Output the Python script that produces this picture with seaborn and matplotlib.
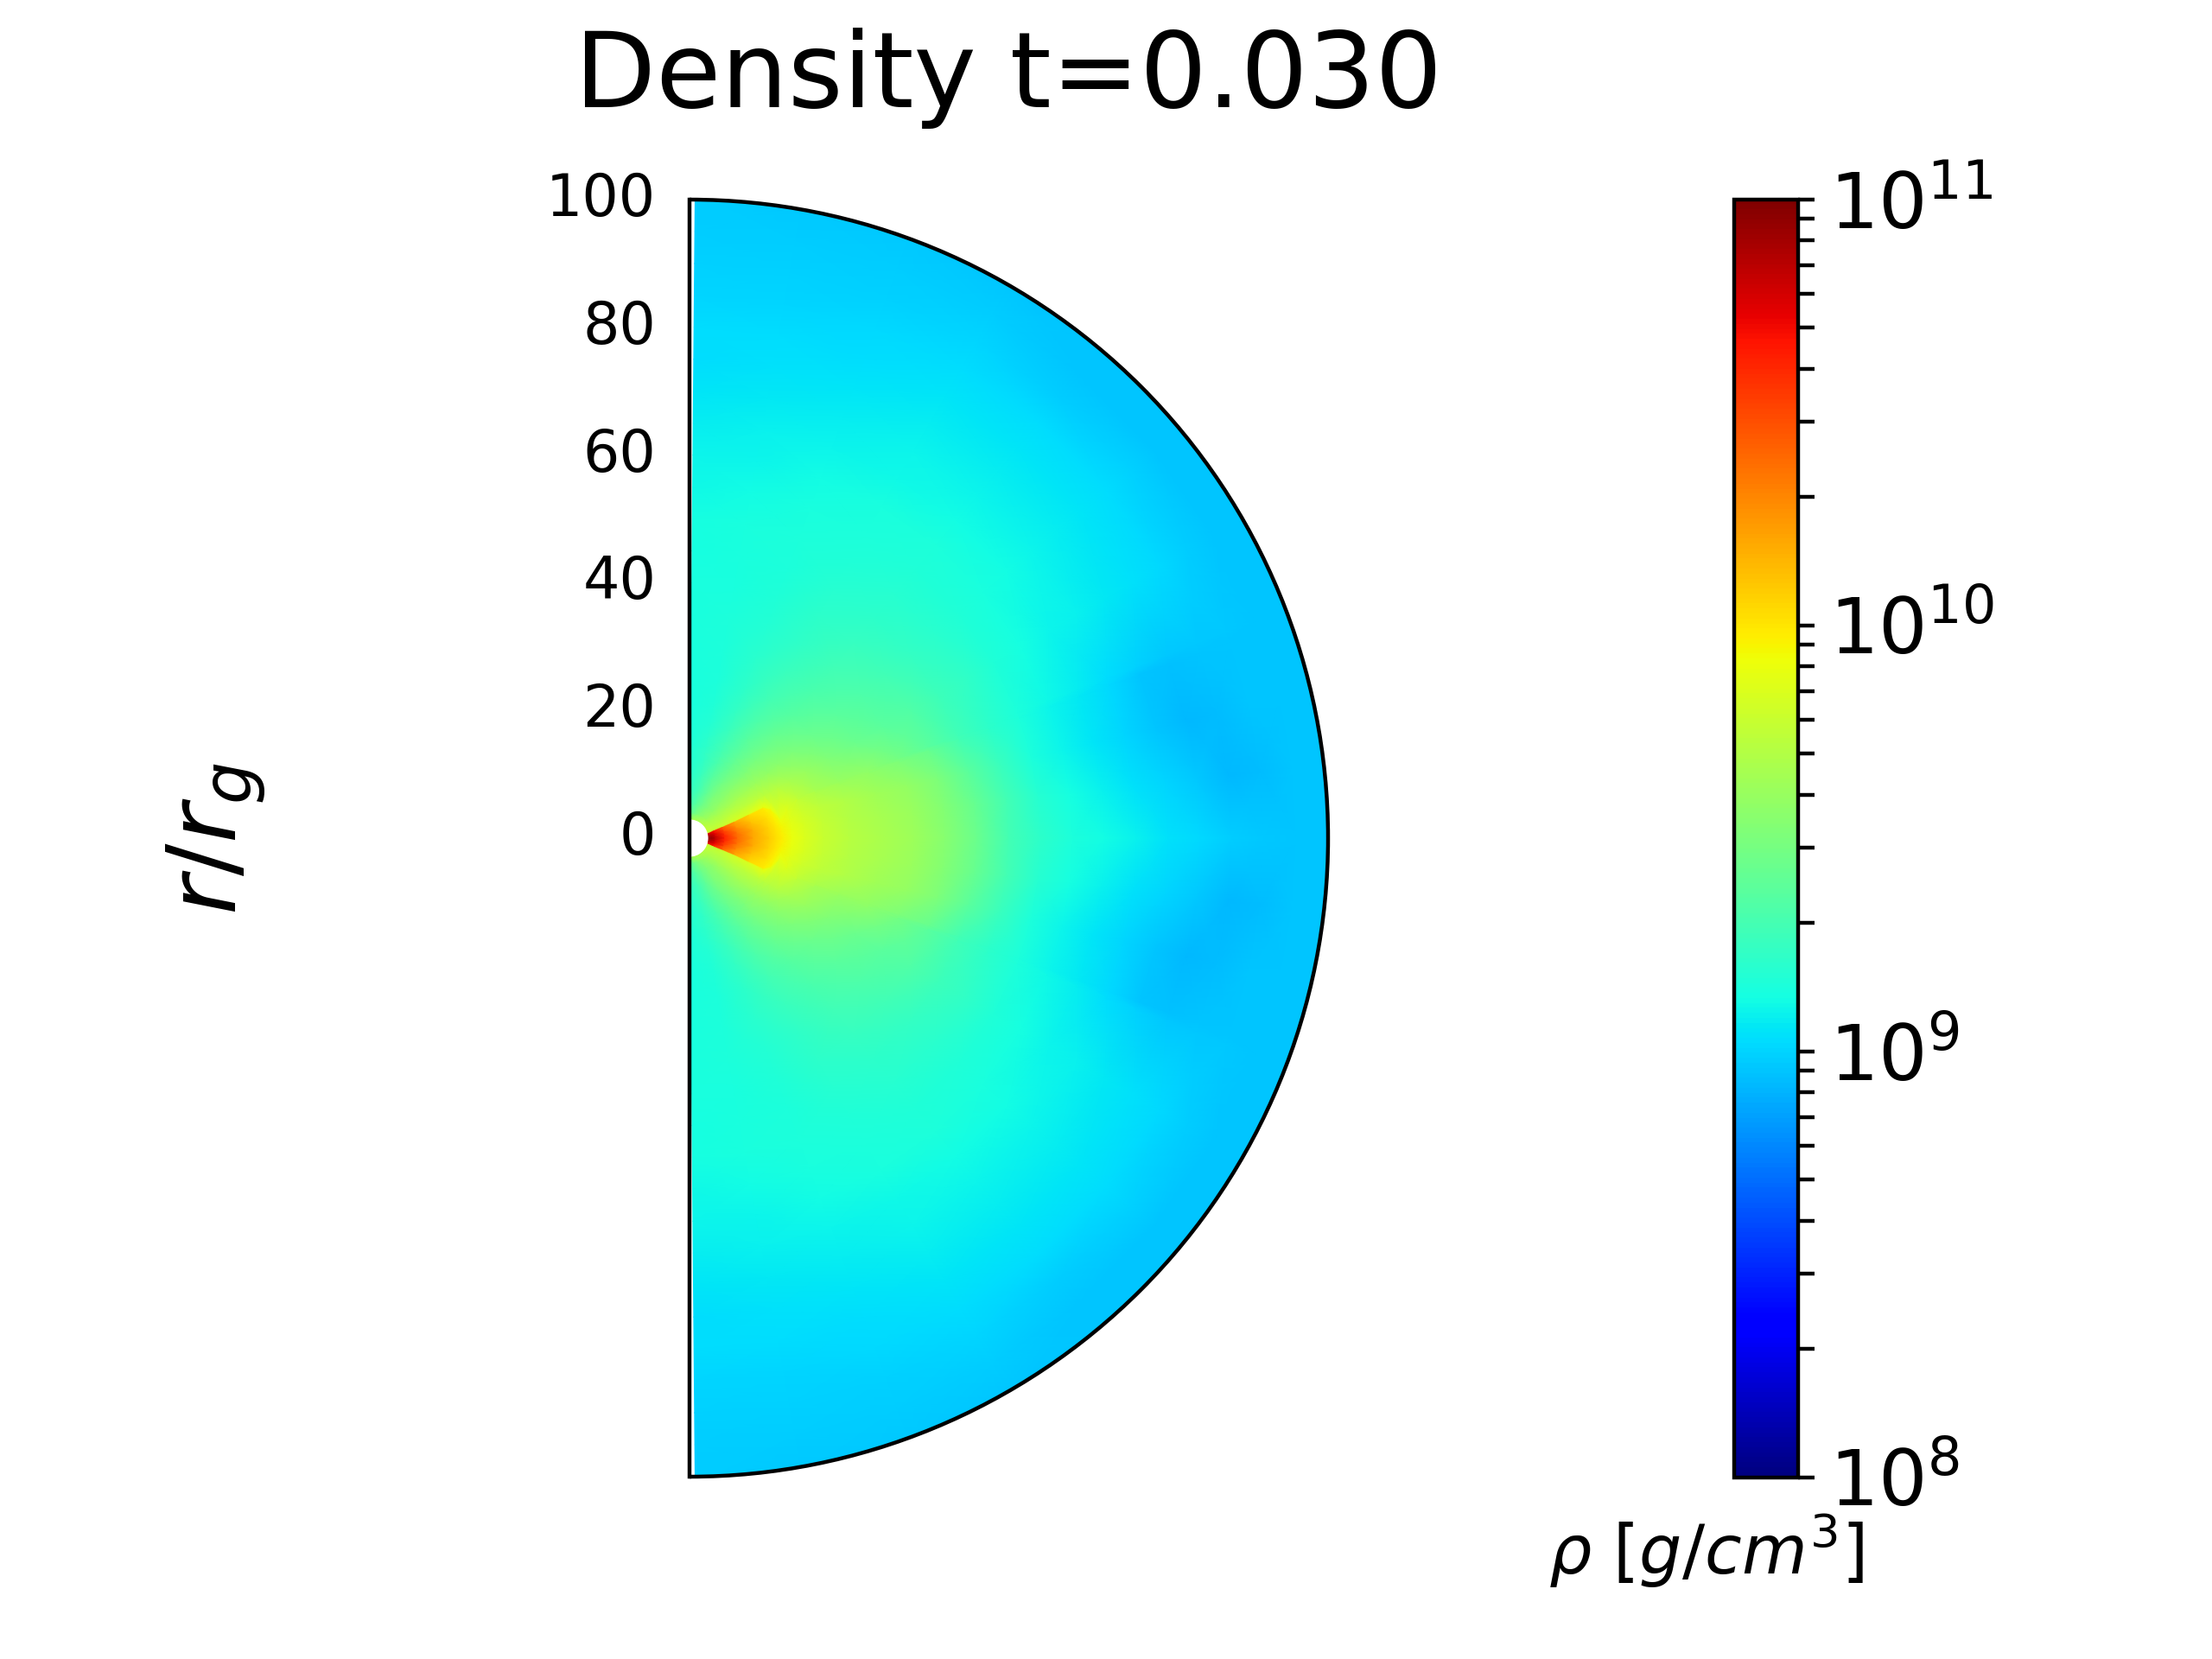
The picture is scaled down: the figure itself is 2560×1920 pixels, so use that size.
import numpy as np
import matplotlib
matplotlib.use("Agg")
import matplotlib.pyplot as plt
from matplotlib.colors import LogNorm
from matplotlib.patches import Arc, Circle
from matplotlib.transforms import ScaledTranslation
import seaborn as sns

title_text = "Density t=0.030"
y_ticks = [0, 20, 40, 60, 80, 100]
cbar_limits = (1e8, 1e11)

# radii (r_g) of the table rows
r_nodes = [3, 4, 5.5, 7.5, 10, 12.5, 13.5, 14.5, 16, 18, 21, 25, 30, 35, 40, 45, 50,
           55, 60, 65, 70, 75, 80, 85, 90, 95, 100]
# latitude (deg from the equator) of the sharp disc edge at each radius
edge_lat = [15.5, 18, 19, 20, 21.3, 22, 19, 12, 16, 20, 20, 20, 20, 20, 20, 20, 20,
            20, 20, 20, 20, 20, 20, 20, 20, 20, 20]
# fixed latitudes above the edge columns
upper_lat = [30, 40, 50, 60, 70, 80, 89.5]

# log10(rho); columns: equator, edge/3, 2edge/3, edge,
# edge+1deg, then upper_lat
log_rho = [
    [10.97, 10.92, 10.85, 10.75, 9.78, 9.75, 9.72, 9.70, 9.68, 9.67, 9.66, 9.60],
    [10.85, 10.80, 10.72, 10.62, 9.76, 9.72, 9.68, 9.62, 9.58, 9.52, 9.45, 9.40],
    [10.63, 10.58, 10.50, 10.40, 9.78, 9.72, 9.66, 9.58, 9.52, 9.45, 9.36, 9.30],
    [10.40, 10.36, 10.28, 10.20, 9.82, 9.74, 9.65, 9.56, 9.50, 9.40, 9.30, 9.24],
    [10.20, 10.18, 10.12, 10.05, 9.84, 9.74, 9.65, 9.55, 9.46, 9.36, 9.26, 9.20],
    [10.08, 10.06, 10.02, 9.97, 9.89, 9.74, 9.62, 9.52, 9.42, 9.32, 9.23, 9.18],
    [10.02, 10.01, 9.98, 9.94, 9.89, 9.73, 9.61, 9.51, 9.41, 9.31, 9.22, 9.18],
    [9.97, 9.96, 9.94, 9.91, 9.88, 9.72, 9.60, 9.50, 9.40, 9.30, 9.21, 9.17],
    [9.90, 9.89, 9.87, 9.85, 9.84, 9.70, 9.58, 9.48, 9.38, 9.28, 9.20, 9.16],
    [9.84, 9.83, 9.80, 9.75, 9.74, 9.66, 9.55, 9.46, 9.36, 9.26, 9.18, 9.15],
    [9.77, 9.76, 9.74, 9.68, 9.66, 9.60, 9.50, 9.42, 9.33, 9.24, 9.17, 9.14],
    [9.72, 9.71, 9.69, 9.62, 9.60, 9.52, 9.44, 9.37, 9.29, 9.21, 9.16, 9.14],
    [9.67, 9.66, 9.64, 9.58, 9.56, 9.44, 9.38, 9.32, 9.26, 9.20, 9.15, 9.14],
    [9.62, 9.61, 9.59, 9.50, 9.47, 9.38, 9.33, 9.28, 9.23, 9.18, 9.15, 9.14],
    [9.54, 9.53, 9.50, 9.42, 9.38, 9.34, 9.28, 9.25, 9.21, 9.17, 9.14, 9.14],
    [9.43, 9.42, 9.38, 9.30, 9.28, 9.27, 9.24, 9.21, 9.19, 9.16, 9.14, 9.13],
    [9.30, 9.29, 9.26, 9.21, 9.21, 9.22, 9.20, 9.19, 9.17, 9.15, 9.14, 9.13],
    [9.21, 9.19, 9.16, 9.15, 9.16, 9.17, 9.17, 9.17, 9.16, 9.14, 9.12, 9.11],
    [9.15, 9.13, 9.10, 9.10, 9.11, 9.13, 9.14, 9.15, 9.14, 9.12, 9.10, 9.09],
    [9.12, 9.08, 9.05, 9.06, 9.07, 9.10, 9.12, 9.12, 9.11, 9.10, 9.08, 9.07],
    [9.08, 9.04, 9.00, 9.01, 9.03, 9.08, 9.09, 9.10, 9.09, 9.07, 9.06, 9.05],
    [9.04, 9.00, 8.95, 8.96, 8.99, 9.06, 9.07, 9.07, 9.07, 9.05, 9.04, 9.03],
    [9.01, 8.97, 8.92, 8.94, 8.97, 9.04, 9.05, 9.05, 9.05, 9.03, 9.02, 9.02],
    [8.98, 8.92, 8.93, 8.95, 8.97, 9.01, 9.02, 9.02, 9.02, 9.01, 9.00, 9.00],
    [8.97, 8.93, 8.95, 8.96, 8.97, 8.98, 8.99, 8.98, 9.00, 8.99, 8.99, 8.99],
    [8.96, 8.95, 8.96, 8.96, 8.96, 8.96, 8.96, 8.96, 8.98, 8.98, 8.98, 8.98],
    [8.96, 8.95, 8.95, 8.95, 8.95, 8.95, 8.95, 8.95, 8.96, 8.97, 8.97, 8.98],
]

sns.set_style("white")
plt.rcParams["font.family"] = ["DejaVu Sans"]
plt.rcParams["mathtext.fontset"] = "dejavusans"
cmap = matplotlib.colormaps["jet"]
norm = LogNorm(*cbar_limits)

W, H = 2560, 1920
fig = plt.figure(figsize=(6.4, 4.8), dpi=400, facecolor="white")
ax = fig.add_axes([798 / W, (H - 1709.5) / H, 739 / W, 1479 / H])

# mesh: the table holds the northern half, the south mirrors it
r_arr = np.array(r_nodes, dtype=float)
E = np.array(edge_lat, dtype=float)
lat_n = np.column_stack([0 * E, E / 3, 2 * E / 3, E, E + 1] +
                        [np.full_like(E, v) for v in upper_lat])
lat = np.column_stack([-lat_n[:, :0:-1], lat_n])
vals = np.array(log_rho)
vals = np.column_stack([vals[:, :0:-1], vals])
r_draw = r_arr.copy()
r_draw[-1] = 101  # overshoots the arc; the clip below trims it
R = r_draw[:, None] * np.ones_like(lat)
X = R * np.cos(np.radians(lat))
Y = R * np.sin(np.radians(lat))

mesh = ax.pcolormesh(X, Y, 10.0 ** vals, cmap=cmap, norm=norm, shading="gouraud",
                     rasterized=True)
mesh.set_clip_path(Circle((0, 0), 100, transform=ax.transData))

ax.add_patch(Arc((0, 0), 200, 200, theta1=-90, theta2=90, color="black", lw=0.8,
                 clip_on=False, zorder=5))

ax.set_xlim(0, 100)
ax.set_ylim(-100, 100)
ax.set_aspect("equal")
ax.set_facecolor("white")
for side in ("top", "right", "bottom"):
    ax.spines[side].set_visible(False)
ax.spines["left"].set_visible(True)
ax.spines["left"].set_color("black")
ax.spines["left"].set_linewidth(0.8)
ax.set_xticks([])
ax.set_yticks(y_ticks)
ax.tick_params(axis="y", length=0, pad=7, labelsize=12, labelcolor="black")
lift = ScaledTranslation(0, 7 / 400, fig.dpi_scale_trans)
for lab in ax.get_yticklabels():
    lab.set_transform(lab.get_transform() + lift)
ax.grid(False)
ax.set_title(title_text, fontsize=22, pad=19.3, color="black")
ax.set_ylabel(r"$r/r_g$", fontsize=20, color="black")
ax.yaxis.set_label_coords((310 - 798) / 739, 0.5)

cax = fig.add_axes([2006.5 / W, (H - 1709.5) / H, 74.5 / W, 1479 / H])
sm = plt.cm.ScalarMappable(norm=norm, cmap=cmap)
cb = fig.colorbar(sm, cax=cax)
cb.outline.set_edgecolor("black")
cb.outline.set_linewidth(0.8)
cax.tick_params(which="both", length=3.5, width=0.8, color="black", right=True, left=False)
cax.tick_params(which="major", labelsize=16, labelcolor="black", pad=3)
fig.text(1975 / W, (H - 1822) / H, r"$\rho\ [g/cm^3]$", fontsize=14, ha="center",
         va="baseline", color="black")

fig.savefig("out.png", dpi=400)
